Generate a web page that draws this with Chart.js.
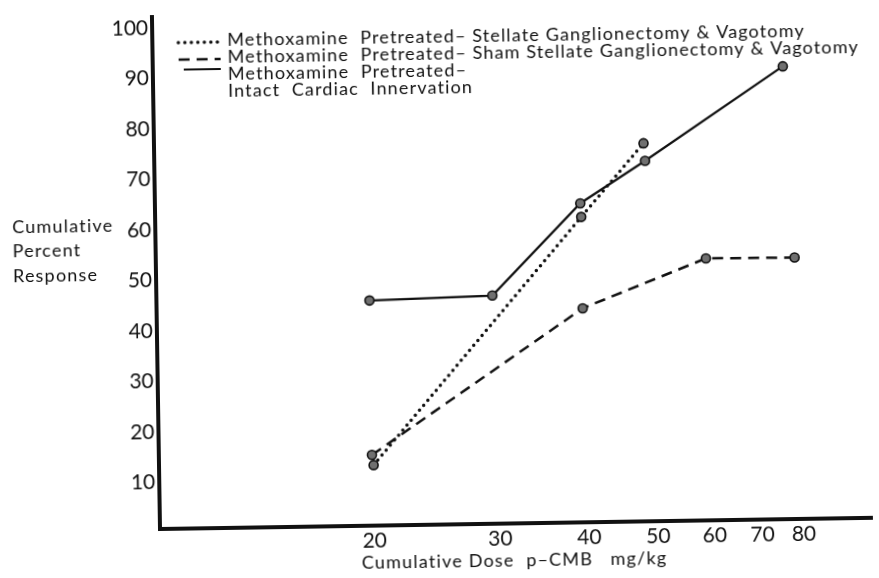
<!DOCTYPE html>
<html>
<head>
<meta charset="utf-8">
<style>
  html, body { margin: 0; padding: 0; background: #fff; }
  #wrap { width: 879px; height: 578px; overflow: hidden; background: #fff; }
  /* the printed figure sits slightly askew on the page */
  #doseChart { transform: rotate(-0.9deg); transform-origin: 160px 529px; }
</style>
<script src="https://cdn.jsdelivr.net/npm/chart.js@4.4.1/dist/chart.umd.min.js"></script>
</head>
<body>
<div id="wrap"><canvas id="doseChart" width="879" height="578"></canvas></div>
<script>
const doseTicks = [20, 30, 40, 50, 60, 70, 80];
const responseTicks = [10, 20, 30, 40, 50, 60, 70, 80, 90, 100];

// stellate ganglionectomy & vagotomy (dotted)
const stellateDose = [20, 39.6, 48.6];
const stellateResp = [12.8, 61.3, 75.7];
// sham operated (dashed)
const shamDose = [19.9, 39.6, 59.1, 78.7];
const shamResp = [14.8, 43.2, 52.7, 52.6];
// intact cardiac innervation (solid)
const intactDose = [19.9, 29.6, 39.5, 48.8, 76.5];
const intactResp = [45.4, 46.0, 64.0, 72.2, 90.5];

const seriesNames = [
  "Methoxamine  Pretreated\u2013 Stellate Ganglionectomy & Vagotomy",
  "Methoxamine  Pretreated\u2013 Sham Stellate Ganglionectomy & Vagotomy",
  "Methoxamine  Pretreated\u2013"
];

const ink = "#111";
const pts = (xs, ys) => xs.map((x, i) => ({ x: x, y: ys[i] }));

const lineStyle = {
  borderColor: ink,
  pointRadius: 4.5,
  pointBackgroundColor: "#707070",
  pointBorderColor: ink,
  pointBorderWidth: 1.6,
  tension: 0,
  fill: false
};

// legend and free text drawn straight onto the canvas
const annotations = {
  id: "annotations",
  afterDraw(chart) {
    const ctx = chart.ctx;
    ctx.save();
    ctx.fillStyle = ink;
    ctx.textBaseline = "middle";
    ctx.textAlign = "left";

    ctx.font = "18px Lato";
    ctx.letterSpacing = "1.15px";
    const rows = [41, 58, 75];
    chart.data.datasets.forEach((ds, i) => {
      ctx.save();
      ctx.strokeStyle = ink;
      ctx.lineWidth = ds.borderWidth;
      ctx.lineCap = ds.borderCapStyle || "butt";
      ctx.setLineDash(ds.borderDash || []);
      const y = rows[i] + (i === 2 ? -5 : 2);
      ctx.beginPath();
      ctx.moveTo(i === 2 ? 191 : 186, y);
      ctx.lineTo(228, y);
      ctx.stroke();
      ctx.restore();
      ctx.fillText(seriesNames[i], 235, rows[i]);
    });
    ctx.fillText("Intact  Cardiac  Innervation", 235, 92);

    ctx.letterSpacing = "1.2px";
    ctx.fillText("Cumulative", 17, 225);
    ctx.fillText("Percent", 17, 249);
    ctx.fillText("Response", 17, 274);

    ctx.textAlign = "center";
    ctx.fillText("Cumulative Dose  p\u2013CMB   mg/kg", 514, 566);
    ctx.restore();
  }
};

new Chart(document.getElementById("doseChart"), {
  type: "line",
  data: {
    datasets: [
      Object.assign({}, lineStyle, {
        label: seriesNames[0],
        data: pts(stellateDose, stellateResp),
        borderWidth: 3.5,
        borderDash: [0, 6.5],
        borderCapStyle: "round"
      }),
      Object.assign({}, lineStyle, {
        label: seriesNames[1],
        data: pts(shamDose, shamResp),
        borderWidth: 2.5,
        borderDash: [11, 7]
      }),
      Object.assign({}, lineStyle, {
        label: "Methoxamine Pretreated\u2013 Intact Cardiac Innervation",
        data: pts(intactDose, intactResp),
        borderWidth: 2.2
      })
    ]
  },
  options: {
    responsive: false,
    animation: false,
    layout: { padding: { top: 8, left: 0, right: 0, bottom: 0 } },
    plugins: { legend: { display: false }, tooltip: { enabled: false } },
    scales: {
      x: {
        type: "logarithmic",
        min: 10,
        max: 100,
        grid: { display: false, drawTicks: false },
        border: { color: ink, width: 4 },
        afterBuildTicks: (s) => { s.ticks = doseTicks.map((v) => ({ value: v })); },
        afterFit: (s) => { s.height = 49; },
        ticks: {
          color: ink,
          font: { family: "Lato", size: 21 },
          padding: 3,
          autoSkip: false,
          maxRotation: 0,
          callback: (v) => String(v)
        }
      },
      y: {
        min: 0.8,
        max: 102.3,
        grid: { display: false, drawTicks: false },
        border: { color: ink, width: 4 },
        afterBuildTicks: (s) => { s.ticks = responseTicks.map((v) => ({ value: v })); },
        afterFit: (s) => { s.width = 160; },
        ticks: {
          color: ink,
          font: { family: "Lato", size: 21 },
          padding: 4,
          callback: (v) => String(v)
        }
      }
    }
  },
  plugins: [annotations]
});
</script>
</body>
</html>
